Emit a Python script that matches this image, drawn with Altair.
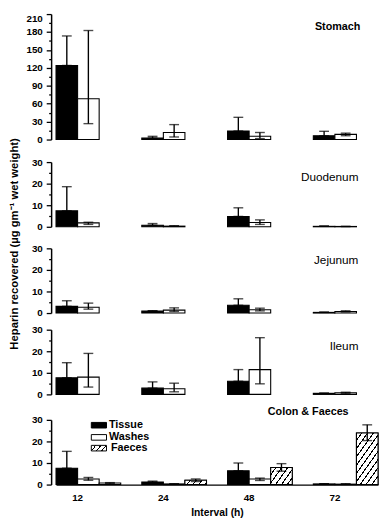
import altair as alt
import pandas as pd

# ---------------- data ----------------
intervals = ["12", "24", "48", "72"]
series = ["Tissue", "Washes", "Faeces"]
panel_names = ["Stomach", "Duodenum", "Jejunum", "Ileum", "Colon & Faeces"]

stomach_tissue = [124.0, 2.5, 14.3, 6.4]
stomach_tissue_hi = [173.4, 5.4, 37.2, 13.8]
stomach_washes = [68.4, 11.8, 5.4, 8.6]
stomach_washes_lo = [26.6, 4.3, 1.6, 6.4]
stomach_washes_hi = [182.5, 25.0, 11.8, 10.7]

duod_tissue = [7.4, 0.7, 4.8, 0.2]
duod_tissue_hi = [18.6, 1.5, 8.8, 0.4]
duod_washes = [1.8, 0.3, 2.0, 0.15]
duod_washes_lo = [1.1, 0.2, 1.1, 0.1]
duod_washes_hi = [2.1, 0.5, 3.2, 0.2]

jej_tissue = [3.1, 0.9, 3.6, 0.3]
jej_tissue_hi = [5.7, 1.1, 6.6, 0.45]
jej_washes = [2.7, 1.35, 1.5, 0.75]
jej_washes_lo = [1.8, 0.75, 1.0, 0.5]
jej_washes_hi = [4.6, 2.4, 2.25, 1.05]

ileum_tissue = [7.7, 2.9, 6.1, 0.5]
ileum_tissue_hi = [14.7, 5.8, 11.5, 0.6]
ileum_washes = [8.0, 2.6, 11.5, 0.8]
ileum_washes_lo = [3.4, 1.2, 4.9, 0.5]
ileum_washes_hi = [19.0, 5.2, 26.3, 1.0]

colon_tissue = [7.6, 1.2, 6.4, 0.3]
colon_tissue_hi = [15.4, 1.6, 10.0, 0.4]
colon_washes = [2.6, 0.3, 2.6, 0.2]
colon_washes_lo = [2.0, 0.2, 1.9, 0.1]
colon_washes_hi = [3.3, 0.4, 3.0, 0.4]
colon_faeces = [0.7, 2.0, 7.9, 23.9]
colon_faeces_lo = [0.5, 1.4, 6.2, 20.4]
colon_faeces_hi = [0.9, 2.6, 9.7, 27.7]

y_title = "Heparin recovered (\u00b5g gm\u207b\u00b9 wet weight)"
x_title = "Interval (h)"


def make_df(t, t_hi, w, w_lo, w_hi, f=None, f_lo=None, f_hi=None):
    rows = []
    for i, iv in enumerate(intervals):
        rows.append(dict(interval=iv, series="Tissue", mean=t[i], lower=t[i], upper=t_hi[i]))
        rows.append(dict(interval=iv, series="Washes", mean=w[i], lower=w_lo[i], upper=w_hi[i]))
        if f is not None:
            rows.append(dict(interval=iv, series="Faeces", mean=f[i], lower=f_lo[i], upper=f_hi[i]))
    return pd.DataFrame(rows)


df_stomach = make_df(stomach_tissue, stomach_tissue_hi, stomach_washes, stomach_washes_lo, stomach_washes_hi)
df_duod = make_df(duod_tissue, duod_tissue_hi, duod_washes, duod_washes_lo, duod_washes_hi)
df_jej = make_df(jej_tissue, jej_tissue_hi, jej_washes, jej_washes_lo, jej_washes_hi)
df_ileum = make_df(ileum_tissue, ileum_tissue_hi, ileum_washes, ileum_washes_lo, ileum_washes_hi)
df_colon = make_df(colon_tissue, colon_tissue_hi, colon_washes, colon_washes_lo, colon_washes_hi,
                   colon_faeces, colon_faeces_lo, colon_faeces_hi)

# ---------------- styling ----------------
FONT = "Liberation Sans"
W_PLOT = 328.5
SMALL_H = 66
SPACING = 17
X_SCALE = alt.Scale(domain=intervals, paddingInner=0.2457, paddingOuter=0)
XO_SCALE = alt.Scale(domain=series, paddingInner=0, paddingOuter=0)


def hatch(w, h, period=6.0, line=1.3, slope=1.4):
    a = slope * w / h
    b = 1.0
    s = (a + b) / (a * a + b * b)
    x2, y2 = s * a, s * b
    t10 = x2 / (x2 * x2 + y2 * y2)
    dt = t10 * period / w
    lt = t10 * line / w
    stops = []
    t = 0.0
    while t < 1.0:
        e = min(t + dt - lt, 1.0)
        n = min(t + dt, 1.0)
        stops += [(t, "#ffffff"), (e, "#ffffff"), (e, "#000000"), (n, "#000000")]
        t += dt
    return alt.LinearGradient(
        gradient="linear", x1=0, y1=0, x2=round(x2, 4), y2=round(y2, 4),
        stops=[alt.GradientStop(color=c, offset=round(o, 4)) for o, c in stops],
    )


def y_axis(ymax, major, minor, title=None, title_y=0, top_flush=False):
    vals = list(range(0, ymax + 1, minor))
    kw = dict(
        values=vals,
        labelExpr=f"datum.value % {major} == 0 ? datum.label : ''",
        tickDash={"condition": {"test": f"datum.value % {major} != 0", "value": [2.5, 20]},
                  "value": [20, 0]},
        tickSize=5, tickWidth=1.3, tickColor="black",
        domainColor="black", domainWidth=1.5,
        labelFont=FONT, labelFontSize=10, labelFontWeight="bold", labelColor="black",
        labelPadding=4, grid=False, offset=5,
    )
    if top_flush:
        kw["labelBaseline"] = {"condition": {"test": f"datum.value == {ymax}", "value": "top"},
                               "value": "middle"}
    if title:
        kw.update(title=title, titleFont=FONT, titleFontSize=11.5, titleFontWeight="bold",
                  titleColor="black", titleAngle=270, titleAlign="center",
                  titleBaseline="middle", titleX=-37.75, titleY=title_y)
    else:
        kw["title"] = None
    return alt.Axis(**kw)


def x_axis_bottom():
    return alt.Axis(
        title=x_title, labelAngle=0, ticks=False, tickSize=0, domain=True,
        domainColor="black", domainWidth=1.2, labelFont=FONT, labelFontSize=10,
        labelFontWeight="bold", labelColor="black", labelPadding=8.5, labelOffset=-11,
        titleFont=FONT, titleFontSize=10.5, titleFontWeight="bold", titleColor="black",
        titlePadding=5,
    )


def panel(name, df, ymax, plot_h, extra_below, yax, label_pos, label_bold, label_size,
          xax=None, extra_layers=()):
    X = alt.X("interval:N", scale=X_SCALE, axis=xax, title=x_title if xax is not None else None)
    XO = alt.XOffset("series:N", scale=XO_SCALE)
    ysc = alt.Scale(domain=[0, ymax], nice=False, zero=True, range=[plot_h, 0])
    bars = alt.Chart(df).mark_bar(stroke="black", strokeWidth=1.1).encode(
        x=X, xOffset=XO,
        y=alt.Y("mean:Q", scale=ysc, axis=yax),
        fill=alt.Fill("series:N", scale=alt.Scale(domain=series, range=["black", "white", "white"]),
                      legend=None),
    )
    layers = [bars]
    layers += [f(X, XO, ysc, yax) for f in extra_layers]
    rule = alt.Chart(df).mark_rule(color="black", strokeWidth=1.4).encode(
        x=X, xOffset=XO, y=alt.Y("lower:Q", scale=ysc, axis=yax), y2="upper:Q")
    cap_hi = alt.Chart(df).mark_tick(color="black", size=10, thickness=1.4).encode(
        x=X, xOffset=XO, y=alt.Y("upper:Q", scale=ysc, axis=yax))
    cap_lo = alt.Chart(df).mark_tick(color="black", size=10, thickness=1.4).encode(
        x=X, xOffset=XO, y=alt.Y("lower:Q", scale=ysc, axis=yax))
    label = alt.Chart(pd.DataFrame({"label": [name]})).mark_text(
        align="right", baseline="middle", font=FONT, fontSize=label_size,
        fontWeight="bold" if label_bold else "normal", color="black",
    ).encode(x=alt.value(label_pos[0]), y=alt.value(label_pos[1]), text="label:N")
    layers += [rule, cap_hi, cap_lo, label]
    return alt.layer(*layers).properties(width=W_PLOT, height=plot_h + extra_below)


# hatched faeces bars (one layer each, so each gets its own pattern geometry)
def faeces_layer(iv, value):
    def f(X, XO, ysc, yax):
        d = df_colon[(df_colon.series == "Faeces") & (df_colon.interval == iv)]
        h = max(value * SMALL_H / 30.0, 1.0)
        return alt.Chart(d).mark_bar(fill=hatch(22, h), stroke="black", strokeWidth=1.1).encode(
            x=X, xOffset=XO, y=alt.Y("mean:Q", scale=ysc, axis=yax))
    return f


def legend_layers():
    out = []
    fills = ["black", "white", hatch(15, 6, period=5.0, line=1.1)]
    tops = [2.6, 15.0, 26.0]
    text_x = [54, 54, 56]
    for name, fill, top, tx in zip(series, fills, tops, text_x):
        one = pd.DataFrame({"item": [name]})

        def sw(X, XO, ysc, yax, one=one, fill=fill, top=top):
            return alt.Chart(one).mark_rect(fill=fill, stroke="black", strokeWidth=1).encode(
                x=alt.value(36), x2=alt.value(51.5), y=alt.value(top), y2=alt.value(top + 5.7))

        def tx_layer(X, XO, ysc, yax, one=one, top=top, tx=tx):
            return alt.Chart(one).mark_text(
                align="left", baseline="middle", font=FONT, fontSize=11, fontWeight="bold",
                color="black").encode(x=alt.value(tx), y=alt.value(top + 2.8), text="item:N")
        out += [sw, tx_layer]
    return out


faeces_extra = [faeces_layer(iv, v) for iv, v in zip(intervals, colon_faeces) if v > 1.5]

p1 = panel(panel_names[0], df_stomach, 210, 128, 5.5,
           y_axis(210, 30, 15, top_flush=True), (310.5, 13), True, 11)
p2 = panel(panel_names[1], df_duod, 30, SMALL_H, 5,
           y_axis(30, 10, 5, title=y_title, title_y=83), (308.5, 15.75), False, 12)
p3 = panel(panel_names[2], df_jej, 30, SMALL_H, 0,
           y_axis(30, 10, 5), (308.5, 11.5), False, 12)
p4 = panel(panel_names[3], df_ileum, 30, SMALL_H, 8.5,
           y_axis(30, 10, 5), (308.5, 16.75), False, 12)
p5 = panel(panel_names[4], df_colon, 30, SMALL_H, 0,
           y_axis(30, 10, 5), (298.5, -7.75), True, 11,
           xax=x_axis_bottom(), extra_layers=faeces_extra + legend_layers())

chart = alt.vconcat(p1, p2, p3, p4, p5, spacing=SPACING, bounds="flush").properties(
    padding={"left": 0, "top": 0, "right": 0, "bottom": 0}
).configure_view(stroke=None)

chart.save("out.html", embed_options={"renderer": "svg", "actions": False})
